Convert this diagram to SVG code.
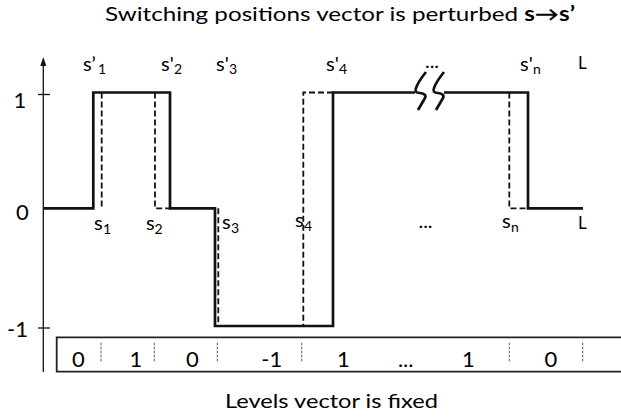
<svg xmlns="http://www.w3.org/2000/svg" width="621" height="418" viewBox="0 0 621 418">
<style>
text{font-family:Lato,"Liberation Sans",sans-serif;fill:#000}
.big{font-size:22px}
.lbl{font-size:20px}
.sub{font-size:14px}
.sig{fill:none;stroke:#111;stroke-width:2.7;stroke-linejoin:miter}
.dash{fill:none;stroke:#111;stroke-width:1.8;stroke-dasharray:6,3}
.div{fill:none;stroke:#666;stroke-width:1.1;stroke-dasharray:2.5,1.5}
.ax{fill:none;stroke:#111;stroke-width:1.3}
</style>
<rect width="621" height="418" fill="#fff"/>
<g id="title"><text x="105" y="21" font-size="20" textLength="470" lengthAdjust="spacingAndGlyphs">Switching positions vector is perturbed <tspan font-weight="bold">s→s’</tspan></text></g>
<g id="axis">
<line class="ax" x1="43.3" y1="62" x2="43.3" y2="372"/>
<path d="M43.3,57 L46.3,66 L40.3,66 Z" fill="#111"/>
<line class="ax" x1="38" y1="94.5" x2="50" y2="94.5"/>
<line class="ax" x1="38" y1="328" x2="50" y2="328"/>
<text class="big" x="20" y="108" text-anchor="middle">1</text>
<text class="big" x="22.5" y="220" text-anchor="middle">0</text>
<text class="big" x="17.5" y="337" text-anchor="middle">-1</text>
</g>
<g id="connectors">
<path class="sig" d="M43.3,208.3 H93.3 V92.5 H170 V208.3 H215 V326 H333 V92.5 H415"/>
<path class="sig" d="M444,92.5 H528 V208.3 H583"/>
<path class="sig" stroke-width="2" d="M426,72 Q418,82 416,88 Q414,93 420,93 Q427,94 425,98 L418,110"/>
<path class="sig" stroke-width="2" d="M444,72 Q436,82 434,88 Q432,93 438,93 Q445,94 443,98 L436,110"/>
<path class="dash" d="M101.7,92.5 V208.3"/>
<path class="dash" d="M155,92.5 V208.3 H170"/>
<path class="dash" d="M218.3,208.3 V326"/>
<path class="dash" d="M333,92.5 H303.3 V326"/>
<path class="dash" d="M509.3,92.5 V208.3 H528"/>
</g>
<g id="top-labels">
<text class="lbl" x="83" y="71">s’<tspan class="sub" x="98" dy="3">1</tspan></text>
<text class="lbl" x="161" y="71">s'<tspan class="sub" x="174" dy="3">2</tspan></text>
<text class="lbl" x="216" y="71">s'<tspan class="sub" x="229" dy="3">3</tspan></text>
<text class="lbl" x="326" y="71">s'<tspan class="sub" x="339" dy="3">4</tspan></text>
<text class="lbl" x="432" y="68" text-anchor="middle">...</text>
<text class="lbl" x="520" y="71">s'<tspan class="sub" x="533" dy="3">n</tspan></text>
<text x="578" y="69" font-size="17">L</text>
</g>
<g id="bottom-labels">
<text class="lbl" x="94" y="230">s<tspan class="sub" x="103" dy="4">1</tspan></text>
<text class="lbl" x="146" y="230">s<tspan class="sub" x="154.5" dy="4">2</tspan></text>
<text class="lbl" x="222" y="229">s<tspan class="sub" x="231" dy="4">3</tspan></text>
<text class="lbl" x="295" y="227">s<tspan class="sub" x="304" dy="4">4</tspan></text>
<text class="lbl" x="425.5" y="228" text-anchor="middle">...</text>
<text class="lbl" x="502" y="228">s<tspan class="sub" x="511" dy="4">n</tspan></text>
<text x="578" y="229" font-size="17">L</text>
</g>
<g id="levels-box">
<path d="M625,337.3 H56.7 V371.7 H625" fill="none" stroke="#222" stroke-width="1.8"/>
<path class="div" d="M101,342.7 V361.7 M154.3,342.7 V361.7 M217.3,342.7 V361.7 M301.7,342.7 V361.7 M509.3,342.7 V361.7 M582.7,342.7 V361.7"/>
<text class="big" x="78.3" y="367" text-anchor="middle">0</text>
<text class="big" x="136" y="367" text-anchor="middle">1</text>
<text class="big" x="192.5" y="367" text-anchor="middle">0</text>
<text class="big" x="271.7" y="367" text-anchor="middle">-1</text>
<text class="big" x="343.5" y="367" text-anchor="middle">1</text>
<text class="big" x="405.7" y="367" text-anchor="middle">...</text>
<text class="big" x="468.5" y="367" text-anchor="middle">1</text>
<text class="big" x="551" y="367" text-anchor="middle">0</text>
</g>
<g id="caption"><text x="225" y="408" font-size="19" textLength="213" lengthAdjust="spacingAndGlyphs">Levels vector is fixed</text></g>
</svg>
